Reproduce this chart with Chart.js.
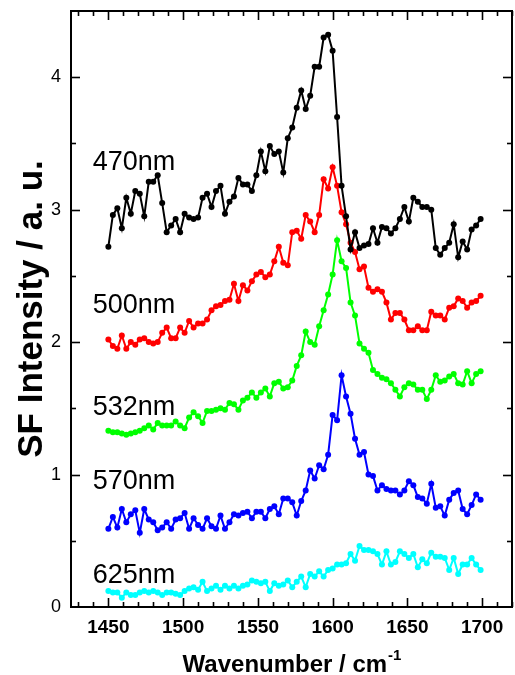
<!DOCTYPE html>
<html>
<head>
<meta charset="utf-8">
<script src="https://cdn.jsdelivr.net/npm/chart.js@4"></script>
<style>
  html, body { margin: 0; padding: 0; background: #fff; }
  canvas { display: block; }
</style>
</head>
<body>
<canvas id="grafico" width="515" height="675"></canvas>
<script>
const numeroOnda = [
  1450,1453,1456,1459,1462,1465,1468,1471,1474,1477,
  1480,1483,1486,1489,1492,1495,1498,1501,1504,1507,
  1510,1513,1516,1519,1522,1525,1528,1531,1534,1537,
  1540,1543,1546,1549,1552,1555,1558,1561,1564,1567,
  1570,1573,1576,1579,1582,1585,1588,1591,1594,1597,
  1600,1603,1606,1609,1612,1615,1618,1621,1624,1627,
  1630,1633,1636,1639,1642,1645,1648,1651,1654,1657,
  1660,1663,1666,1669,1672,1675,1678,1681,1684,1687,
  1690,1693,1696,1699
];
const nm470 = [
  2.72,2.96,3.01,2.86,3.09,2.97,3.14,3.12,2.95,3.21,
  3.21,3.26,3.05,2.83,2.88,2.93,2.83,2.97,2.94,2.93,
  2.94,3.09,3.12,3.02,3.14,3.18,2.97,3.06,3.10,3.24,
  3.19,3.19,3.14,3.26,3.44,3.29,3.48,3.42,3.44,3.28,
  3.54,3.62,3.77,3.90,3.76,3.86,4.08,4.08,4.30,4.32,
  4.20,3.70,3.18,2.95,2.70,2.83,2.71,2.73,2.74,2.86,
  2.75,2.87,2.86,2.82,2.86,2.93,3.02,2.91,3.09,3.06,
  3.02,3.02,3.00,2.71,2.66,2.71,2.75,2.89,2.64,2.76,
  2.70,2.85,2.88,2.93
];
const nm500 = [
  2.02,1.97,1.95,2.05,1.95,2.00,1.98,2.02,2.03,2.00,
  1.99,2.00,2.07,2.11,2.03,2.03,2.11,2.07,2.16,2.11,
  2.14,2.14,2.17,2.24,2.27,2.28,2.31,2.32,2.44,2.31,
  2.43,2.39,2.46,2.51,2.53,2.49,2.51,2.61,2.72,2.60,
  2.58,2.83,2.84,2.78,2.96,2.91,2.83,2.96,3.23,3.16,
  3.32,3.18,2.98,2.89,2.75,2.68,2.55,2.57,2.41,2.38,
  2.40,2.38,2.30,2.17,2.22,2.22,2.17,2.09,2.09,2.12,
  2.09,2.09,2.23,2.20,2.20,2.17,2.26,2.27,2.33,2.31,
  2.26,2.30,2.31,2.35
];
const nm532 = [
  1.33,1.32,1.32,1.31,1.30,1.31,1.32,1.33,1.35,1.37,
  1.34,1.39,1.37,1.37,1.37,1.40,1.37,1.35,1.43,1.47,
  1.44,1.39,1.48,1.48,1.49,1.50,1.49,1.54,1.53,1.49,
  1.56,1.58,1.62,1.58,1.62,1.65,1.59,1.69,1.70,1.65,
  1.66,1.71,1.82,1.90,2.08,2.00,1.98,2.12,2.24,2.36,
  2.51,2.77,2.61,2.56,2.30,2.20,1.99,1.95,1.92,1.79,
  1.76,1.73,1.72,1.69,1.64,1.59,1.66,1.69,1.68,1.64,
  1.64,1.57,1.64,1.75,1.70,1.71,1.74,1.76,1.69,1.68,
  1.78,1.69,1.76,1.78
];
const nm570 = [
  0.59,0.68,0.60,0.74,0.64,0.70,0.73,0.56,0.74,0.66,
  0.64,0.58,0.60,0.64,0.59,0.66,0.67,0.71,0.59,0.67,
  0.62,0.59,0.67,0.61,0.59,0.69,0.59,0.64,0.70,0.69,
  0.71,0.72,0.67,0.72,0.72,0.67,0.74,0.76,0.70,0.82,
  0.82,0.79,0.69,0.80,0.88,1.03,0.97,1.07,1.04,1.15,
  1.45,1.41,1.75,1.59,1.46,1.27,1.15,1.17,1.00,0.99,
  0.88,0.92,0.89,0.88,0.88,0.85,0.88,0.95,0.92,0.83,
  0.82,0.78,0.93,0.75,0.76,0.69,0.81,0.86,0.88,0.74,
  0.70,0.77,0.85,0.81
];
const nm625 = [
  0.12,0.11,0.11,0.07,0.11,0.09,0.09,0.11,0.12,0.11,
  0.12,0.11,0.09,0.11,0.11,0.10,0.09,0.12,0.14,0.15,
  0.13,0.19,0.12,0.14,0.16,0.13,0.16,0.14,0.16,0.14,
  0.16,0.17,0.20,0.19,0.18,0.19,0.12,0.18,0.16,0.17,
  0.20,0.15,0.19,0.23,0.15,0.25,0.23,0.27,0.23,0.28,
  0.29,0.32,0.32,0.33,0.40,0.35,0.46,0.43,0.43,0.42,
  0.40,0.32,0.42,0.32,0.34,0.42,0.40,0.37,0.40,0.30,
  0.36,0.33,0.41,0.38,0.38,0.37,0.28,0.37,0.25,0.32,
  0.32,0.37,0.32,0.28
];
const etiquetas = ["470nm", "500nm", "532nm", "570nm", "625nm"];
const etiquetaY = [3.30, 2.22, 1.45, 0.89, 0.18]; //altura de la linea base de cada etiqueta
const colores = ["#000000", "#ff0000", "#00ff00", "#0000ff", "#00ffff"];
const ticksX = [1450, 1500, 1550, 1600, 1650, 1700];
const ticksY = [0, 1, 2, 3, 4];

const series = [nm470, nm500, nm532, nm570, nm625];
const aPuntos = valores => numeroOnda.map((x, i) => ({ x: x, y: valores[i] }));

//ejes, marcas y textos dibujados a mano
const ejes = {
  id: "ejes",
  afterDraw(chart) {
    const c = chart.ctx;
    const a = chart.chartArea;
    const sx = chart.scales.x;
    const sy = chart.scales.y;
    c.save();
    c.strokeStyle = "#000";
    c.fillStyle = "#000";
    c.lineWidth = 2;
    c.strokeRect(a.left, a.top, a.right - a.left, a.bottom - a.top);

    const marca = (x1, y1, x2, y2) => {
      c.beginPath();
      c.moveTo(x1, y1);
      c.lineTo(x2, y2);
      c.stroke();
    };
    c.lineWidth = 1.6;
    //marcas eje x (cada 10, mayores cada 50)
    for (let v = 1430; v <= 1720; v += 10) {
      const px = Math.round(sx.getPixelForValue(v)) + 0.5;
      const l = ticksX.includes(v) ? 9 : 5;
      marca(px, a.bottom, px, a.bottom - l);
      marca(px, a.top, px, a.top + l);
    }
    //marcas eje y (cada 0.5)
    for (let v = 0.5; v < 4.5; v += 0.5) {
      const py = Math.round(sy.getPixelForValue(v)) + 0.5;
      const l = ticksY.includes(v) ? 9 : 5;
      marca(a.left, py, a.left + l, py);
      marca(a.right, py, a.right - l, py);
    }

    //numeros de los ejes
    c.font = "bold 19px 'Liberation Sans', Arial, sans-serif";
    c.textAlign = "center";
    c.textBaseline = "alphabetic";
    ticksX.forEach(v => c.fillText(String(v), sx.getPixelForValue(v), a.bottom + 26));
    c.font = "18px 'Liberation Sans', Arial, sans-serif";
    c.textAlign = "right";
    c.textBaseline = "middle";
    ticksY.forEach(v => c.fillText(String(v), a.left - 10, sy.getPixelForValue(v)));

    //titulos
    c.font = "bold 24px 'Liberation Sans', Arial, sans-serif";
    c.textAlign = "left";
    c.textBaseline = "alphabetic";
    const t1 = "Wavenumber / cm";
    const w1 = c.measureText(t1).width;
    c.font = "bold 15px 'Liberation Sans', Arial, sans-serif";
    const w2 = c.measureText("-1").width;
    const cx = (a.left + a.right) / 2;
    const x0 = cx - (w1 + w2) / 2;
    c.font = "bold 24px 'Liberation Sans', Arial, sans-serif";
    c.fillText(t1, x0, 672);
    c.font = "bold 15px 'Liberation Sans', Arial, sans-serif";
    c.fillText("-1", x0 + w1 + 1, 660);

    c.save();
    c.translate(42, (a.top + a.bottom) / 2);
    c.rotate(-Math.PI / 2);
    c.font = "bold 35px 'Liberation Sans', Arial, sans-serif";
    c.textAlign = "center";
    c.textBaseline = "alphabetic";
    c.fillText("SF Intensity / a. u.", 0, 0);
    c.restore();

    //nombres de cada curva
    c.font = "27px 'Liberation Sans', Arial, sans-serif";
    c.textAlign = "left";
    c.textBaseline = "alphabetic";
    etiquetas.forEach((t, i) => c.fillText(t, sx.getPixelForValue(1439.5), sy.getPixelForValue(etiquetaY[i])));
    c.restore();
  }
};

const ctx = document.getElementById("grafico").getContext("2d");
const grafico = new Chart(ctx, {
  type: "line",
  data: {
    datasets: series.map((s, i) => ({
      label: etiquetas[i],
      data: aPuntos(s),
      borderColor: colores[i],
      backgroundColor: colores[i],
      borderWidth: 2,
      pointRadius: 3,
      pointHoverRadius: 3,
      pointBorderWidth: 0,
      tension: 0
    }))
  },
  options: {
    responsive: false,
    animation: false,
    devicePixelRatio: 1,
    layout: { padding: { left: 71, right: 2, top: 11, bottom: 68 } },
    plugins: { legend: { display: false }, tooltip: { enabled: false } },
    scales: {
      x: { type: "linear", min: 1425, max: 1720, display: false },
      y: { type: "linear", min: 0, max: 4.5, display: false }
    }
  },
  plugins: [ejes]
});
</script>
</body>
</html>
